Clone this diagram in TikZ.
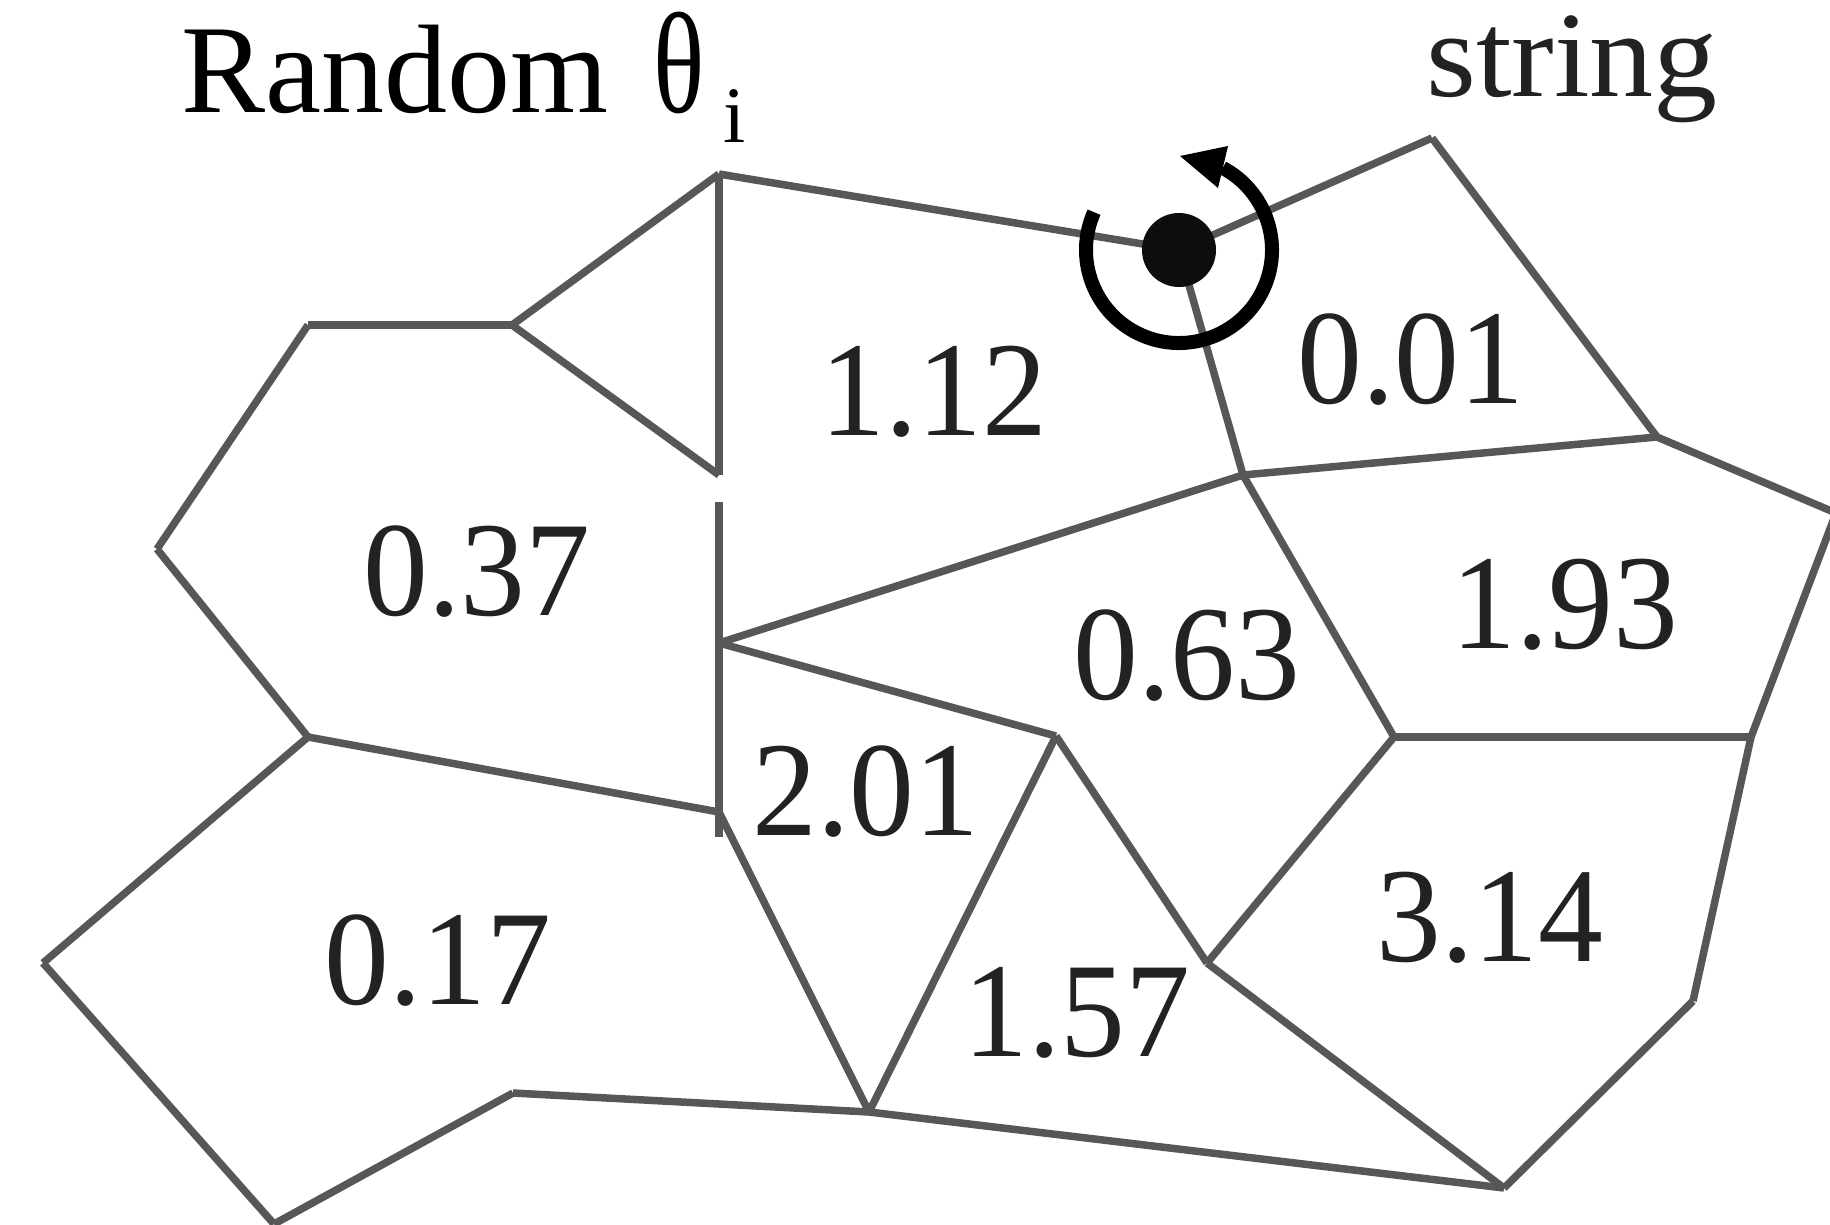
\documentclass[tikz,border=0pt]{standalone}
\usepackage{fontspec}
\setmainfont{Liberation Serif}
\definecolor{edgegray}{HTML}{575757}
\definecolor{numcol}{HTML}{222222}
\definecolor{dotcol}{HTML}{0D0D0D}
\begin{document}
\begin{tikzpicture}[x=1pt,y=1pt,
  edge/.style={draw=edgegray, line width=7.5pt},
  num/.style={anchor=base, text=numcol, inner sep=0pt, font=\fontsize{135}{135}\selectfont},
  title/.style={anchor=base west, inner sep=0pt, font=\fontsize{126}{126}\selectfont}]
\useasboundingbox (0,0) rectangle (1830,-1224);
% vertices
\coordinate (A) at (719,-174);
\coordinate (B) at (512,-325);
\coordinate (C) at (308,-325);
\coordinate (D) at (157,-549);
\coordinate (E) at (308,-737);
\coordinate (F) at (719,-475);
\coordinate (F2) at (719,-502);
\coordinate (G) at (719,-643);
\coordinate (H) at (719,-812);
\coordinate (Vb) at (719,-837);
\coordinate (N) at (1179,-250);
\coordinate (O) at (1432,-138);
\coordinate (P) at (1657,-437);
\coordinate (Q) at (1836,-513);
\coordinate (M) at (1243,-475);
\coordinate (L) at (1394,-737);
\coordinate (R) at (1751,-737);
\coordinate (S) at (1693,-1001);
\coordinate (T) at (1504,-1188);
\coordinate (K) at (1207,-963);
\coordinate (J) at (1056,-736);
\coordinate (I) at (869,-1112);
\coordinate (U) at (513,-1093);
\coordinate (V) at (274,-1224);
\coordinate (W) at (43,-963);
% edges
\foreach \a/\b in {C/B,B/A,A/F,F/B,C/D,D/E,E/H,E/W,W/V,V/U,U/I,I/H,I/J,I/T,T/S,T/K,S/R,R/Q,Q/P,P/O,O/N,N/A,N/M,M/P,M/G,M/L,L/R,L/K,K/J,J/G,F2/Vb}
  \draw[edge] (\a) -- (\b);
% rotation marker
\fill[dotcol] (N) circle[radius=37];
\draw[line width=14pt, black] (N) ++(156:93) arc[start angle=156, end angle=422, radius=93];
\coordinate (tip) at (1180,-156);
\coordinate (hb1) at (1228,-146);
\coordinate (hb2) at (1218,-188);
\fill[black] (tip) -- (hb1) -- (hb2) -- cycle;
% labels
\node[title, text=black] (ttl) at (181,-112) {Random\hspace{0.36em}\scalebox{0.85}[1.14]{θ}};
\node[anchor=base west, inner sep=0pt, font=\fontsize{80}{80}\selectfont] (sub) at (723,-142) {i};
\node[title, text=numcol, font=\fontsize{122}{122}\selectfont] (str) at (1426,-96) {\scalebox{1.05}[1]{string}};
\node[num] (n112) at (934,-435) {\scalebox{0.96}[1]{1.12}};
\node[num] (n001) at (1411,-403) {\scalebox{0.96}[1]{0.01}};
\node[num] (n037) at (477,-615) {\scalebox{0.96}[1]{0.37}};
\node[num] (n063) at (1187,-699) {\scalebox{0.96}[1]{0.63}};
\node[num] (n193) at (1565,-648) {\scalebox{0.96}[1]{1.93}};
\node[num] (n201) at (866,-835) {\scalebox{0.96}[1]{2.01}};
\node[num] (n017) at (438,-1004) {\scalebox{0.96}[1]{0.17}};
\node[num] (n157) at (1077,-1056) {\scalebox{0.96}[1]{1.57}};
\node[num] (n314) at (1490,-961) {\scalebox{0.96}[1]{3.14}};
\end{tikzpicture}
\end{document}
